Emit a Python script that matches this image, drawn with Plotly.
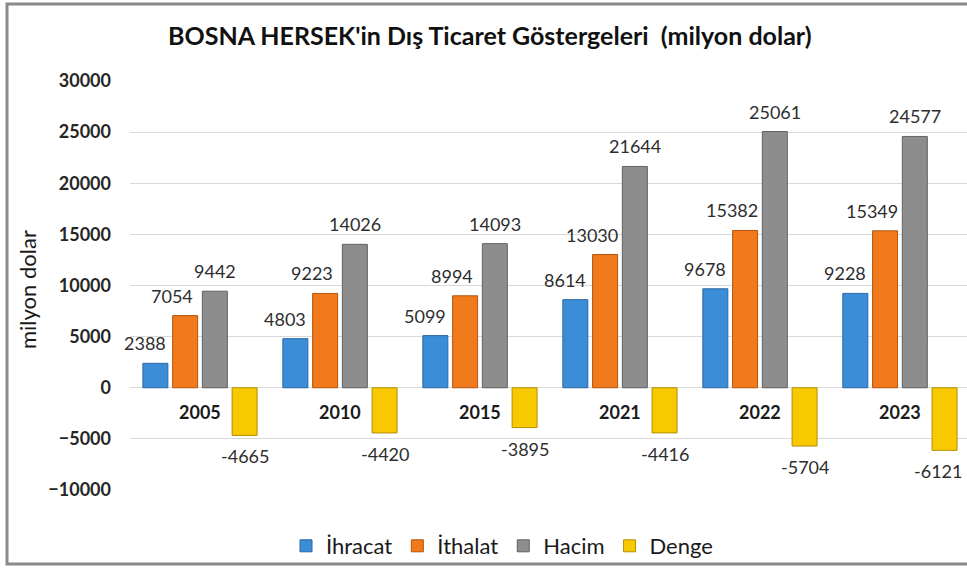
import plotly.graph_objects as go

years = ["2005", "2010", "2015", "2021", "2022", "2023"]
ihracat = [2388, 4803, 5099, 8614, 9678, 9228]
ithalat = [7054, 9223, 8994, 13030, 15382, 15349]
hacim = [9442, 14026, 14093, 21644, 25061, 24577]
denge = [-4665, -4420, -3895, -4416, -5704, -6121]

# name, values, fill, outline, label x-shift (px) relative to group centre
series = [
    ("İhracat", ihracat, "#3b8dd7", "#2a67a3", -55),
    ("İthalat", ithalat, "#f07a1c", "#b5550b", -28),
    ("Hacim", hacim, "#8d8d8d", "#616161", 15),
    ("Denge", denge, "#f8c800", "#b48f00", 45),
]

FONT = "Lato, 'Open Sans', sans-serif"
fig = go.Figure()
for name, vals, col, line, _ in series:
    fig.add_trace(go.Bar(
        name=name, x=years, y=vals,
        marker=dict(color=col, line=dict(color=line, width=1)),
        cliponaxis=False,
    ))

W, H = 967, 569
L, R, T, B = 130, 0, 81, 79
pw, ph = W - L - R, H - T - B

def px(x):
    return (x - L) / pw

def py(y):
    return (H - B - y) / ph

annotations = []
for name, vals, col, line, xs in series:
    for i, v in enumerate(vals):
        shift = xs
        if i == len(vals) - 1 and xs > 40:
            shift = 38  # keep the right-most label inside the page
        annotations.append(dict(
            x=i, y=v, xref="x", yref="y", text=str(v), showarrow=False,
            xanchor="center", yanchor="middle", xshift=shift, yshift=20 if v >= 0 else -21,
            font=dict(family=FONT, size=18, color="#2e2e2e")))
for i, yr in enumerate(years):
    annotations.append(dict(x=i, y=-2400, xref="x", yref="y", text="<b>%s</b>" % yr,
                            showarrow=False, xanchor="center", yanchor="middle",
                            font=dict(family=FONT, size=18, color="#1a1a1a")))
annotations.append(dict(x=px(27), y=py(290), xref="paper", yref="paper", text="milyon dolar",
                        textangle=-90, showarrow=False, xanchor="center", yanchor="middle",
                        font=dict(family=FONT, size=22, color="#1a1a1a")))
annotations.append(dict(x=px(490), y=py(35), xref="paper", yref="paper",
                        text="<b>BOSNA HERSEK'in Dış Ticaret Göstergeleri  (milyon dolar)</b>",
                        showarrow=False, xanchor="center", yanchor="middle",
                        font=dict(family=FONT, size=25, color="#111111")))

fig.update_layout(
    width=W, height=H,
    margin=dict(l=L, r=R, t=T, b=B, autoexpand=False),
    paper_bgcolor="white", plot_bgcolor="white",
    barmode="group", bargap=0.15, bargroupgap=0.16,
    font=dict(family=FONT, color="#1a1a1a"),
    showlegend=True,
    legend=dict(orientation="h", x=px(502), y=py(546), xanchor="center", yanchor="middle",
                font=dict(family=FONT, size=22, color="#1a1a1a"), itemwidth=30,
                traceorder="normal", bgcolor="rgba(0,0,0,0)"),
    annotations=annotations,
    shapes=[dict(type="rect", xref="paper", yref="paper",
                 x0=px(7), x1=px(1000), y0=py(564), y1=py(4),
                 line=dict(color="#8a8a8a", width=3), fillcolor="rgba(0,0,0,0)", layer="below")],
)
fig.update_xaxes(type="category", range=[-0.5, 5.479], showticklabels=False, showgrid=False,
                 zeroline=False, showline=False, ticks="")
fig.update_yaxes(range=[-10000, 30000], dtick=5000, tickformat="d", showgrid=True,
                 gridcolor="#d9d9d9", gridwidth=1, zeroline=True, zerolinecolor="#d9d9d9",
                 zerolinewidth=1,
                 tickfont=dict(family=FONT, size=18, color="#262626", weight="bold"),
                 ticklabelstandoff=18, showline=False)

fig.write_html("out.html", config={"displayModeBar": False},
               post_script="document.body.style.margin='0';document.body.style.overflow='hidden';")
